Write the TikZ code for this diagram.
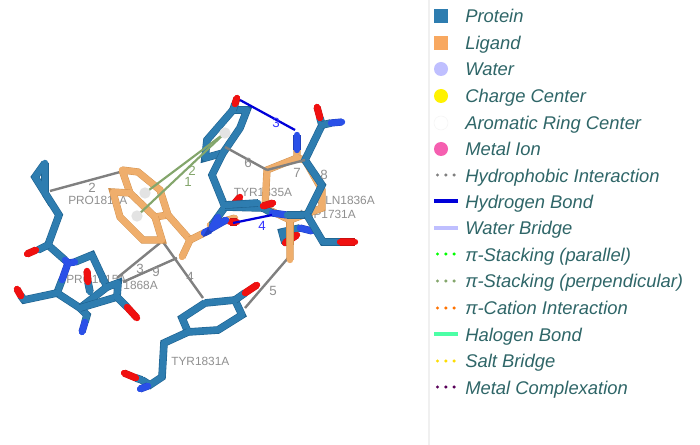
\documentclass[tikz,border=0pt]{standalone}
\usepackage{fontspec}
\setmainfont{Liberation Sans}
\definecolor{protc}{HTML}{2E7DB0}
\definecolor{protd}{HTML}{1F6391}
\definecolor{ligc}{HTML}{EFAE6C}
\definecolor{ligd}{HTML}{D2924F}
\definecolor{oxc}{HTML}{F01010}
\definecolor{oxd}{HTML}{C81010}
\definecolor{nitc}{HTML}{2A50E8}
\definecolor{nitd}{HTML}{2040C0}
\definecolor{legtext}{HTML}{2F6668}
\definecolor{labc}{HTML}{909090}
\definecolor{hydroc}{HTML}{808080}
\definecolor{perpc}{HTML}{84A66C}
\definecolor{ligsq}{HTML}{F8A860}
\definecolor{metalc}{HTML}{F55FB0}
\tikzset{
  stick/.style={line width=4.8pt,line cap=round,line join=round},
  prot/.style={stick,draw=protc,preaction={draw=protd,line width=5.7pt}},
  lig/.style={stick,draw=ligc,preaction={draw=ligd,line width=5.4pt}},
  oxy/.style={stick,draw=oxc,preaction={draw=oxd,line width=5.4pt}},
  nit/.style={stick,draw=nitc,preaction={draw=nitd,line width=5.4pt}},
  hydro/.style={draw=hydroc,line width=1.8pt},
  hbond/.style={draw=blue!85!black,line width=1.7pt},
  perp/.style={draw=perpc,line width=1.6pt},
  reslab/.style={text=labc,font=\fontsize{8.9}{10}\selectfont,inner sep=0pt},
  numlab/.style={text=labc,font=\fontsize{10}{10}\selectfont,inner sep=0pt},
  leg/.style={anchor=base west,text=legtext,font=\fontsize{13.8}{14}\selectfont\itshape,inner sep=0pt},
  legline/.style={line width=2.4pt},
  legdots/.style={line width=2.6pt,line cap=round,dash pattern=on 0pt off 6.2pt},
  sphere/.style={circle,fill=gray!22,draw=none,minimum size=8.5pt,inner sep=0pt},
  legsq/.style={minimum size=10.5pt,inner sep=0pt},
  legci/.style={circle,minimum size=10.5pt,inner sep=0pt}
}
\begin{document}
\begin{tikzpicture}[x=0.75pt,y=-0.75pt]
\useasboundingbox (0,0) rectangle (700,445);
\fill[white] (0,0) rectangle (700,445);
\draw[gray!12,line width=0.8pt] (429,0) -- (429,445);
% residue labels (behind sticks)
\node[reslab,anchor=west] (lp1) at (68,200) {PRO1811A};
\node[reslab,anchor=west] (lp2) at (66,279) {PRO1815A};
\node[reslab,anchor=east] (ll1) at (158,285) {1868A};
\node[reslab] (lt1) at (263,192) {TYR1835A};
\node[reslab,anchor=east] (lg) at (375,200) {GLN1836A};
\node[reslab,anchor=east] (la) at (356,214) {ASP1731A};
\node[reslab,anchor=west] (lt2) at (171,361) {TYR1831A};
% interaction lines
\draw[hydro] (50,191) -- (120,172);
\draw[hydro] (160,243) -- (117,278);
\draw[hydro] (177,258) -- (123,282);
\draw[hydro] (163,242) -- (203,298);
\draw[hydro] (288,258) -- (245,308);
% protein: left upper residue
\draw[prot] (45,163) -- (35,177) -- (45,193) -- (45,163);
\draw[prot] (45,193) -- (59,215) -- (48,245) -- (65,260);
\draw[prot] (48,245) -- (38,250);
\draw[oxy] (36,250) -- (27,254);
% protein: proline ring etc
\draw[prot] (75,262) -- (92,255) -- (107,287) -- (80,308) -- (57,293) -- (62,280);
\draw[nit] (62,280) -- (68,263) -- (75,262);
\draw[nit] (65,260) -- (68,263);
\draw[prot] (57,293) -- (24,300) -- (21,296);
\draw[oxy] (21,296) -- (17,289);
\draw[prot] (90,292) -- (88,282);
\draw[oxy] (88,282) -- (87,271);
\draw[prot] (80,308) -- (87,315) -- (85,322);
\draw[nit] (85,322) -- (82,332);
\draw[prot] (80,308) -- (117,297) -- (118,283) -- (107,287);
\draw[prot] (117,297) -- (127,307);
\draw[oxy] (127,307) -- (137,318);
% protein: TYR1831
\draw[prot] (205,303) -- (235,300) -- (242,315) -- (218,330) -- (188,332) -- (182,318) -- (205,303);
\draw[prot] (235,300) -- (245,293);
\draw[oxy] (245,293) -- (257,285);
\draw[prot] (188,332) -- (164,343) -- (162,377) -- (150,385) -- (142,380);
\draw[nit] (148,386) -- (140,389);
\draw[prot] (142,380) -- (136,378);
\draw[oxy] (136,378) -- (124,373);
% protein behind ligand: lower right
\draw[oxy] (240,197) -- (234,204);
\draw[prot] (285,243) -- (282,232) -- (300,228);
\draw[nit] (300,228) -- (312,231);
\draw[oxy] (285,243) -- (297,235);
% ligand
\draw[lig] (122,170) -- (138,172) -- (160,190) -- (168,215) -- (155,217) -- (130,193) -- (122,170);
\draw[lig] (130,193) -- (113,192) -- (120,217) -- (143,240) -- (162,240) -- (155,217);
\draw[lig] (168,215) -- (190,240) -- (182,257);
\draw[lig] (190,240) -- (204,233);
\draw[nit] (204,233) -- (210,230);
\draw[lig] (210,225) -- (235,218);
\draw[lig] (265,208) -- (267,170) -- (297,158) -- (297,150);
\draw[nit] (297,150) -- (297,135);
\draw[lig] (297,158) -- (305,160) -- (322,190) -- (322,208) -- (290,220) -- (290,260);
\draw[lig] (265,208) -- (290,220);
\draw[oxy] (230,222) -- (237,222);
% protein front: upper ring + backbone
\draw[prot] (233,110) -- (247,110) -- (240,128) -- (223,153) -- (205,158) -- (207,140) -- (233,110);
\draw[prot] (233,110) -- (235,104);
\draw[oxy] (235,104) -- (237,98);
\draw[prot] (223,153) -- (212,175) -- (225,207) -- (212,225);
\draw[nit] (218,217) -- (212,228) -- (226,220);
\draw[prot] (225,207) -- (263,208) -- (272,213);
\draw[prot] (225,205) -- (258,203);
\draw[oxy] (263,206) -- (273,203);
\draw[nit] (272,213) -- (287,215);
\draw[prot] (287,215) -- (307,215) -- (322,185) -- (305,160) -- (322,125);
\draw[prot] (322,125) -- (320,118);
\draw[oxy] (320,118) -- (317,107);
\draw[prot] (322,125) -- (331,123);
\draw[nit] (331,123) -- (342,122);
\draw[prot] (307,215) -- (323,242) -- (340,242);
\draw[oxy] (340,242) -- (355,242);
\draw[lig] (290,222) -- (290,245);
% hydrogen bonds
\draw[hbond] (240,100) -- (295,130);
\draw[hbond] (233,223) -- (272,215);
% hydrophobic across
\draw[hydro] (225,147) -- (267,170);
\draw[hydro] (267,170) -- (305,160);
% pi stacking
\draw[perp] (145,193) -- (225,133);
\draw[perp] (137,216) -- (225,133);
\node[sphere] (c1) at (145,193) {};
\node[sphere] (c2) at (137,216) {};
\node[sphere] (c3) at (225,133) {};
% numeric labels
\node[numlab] (n1) at (92,188) {2};
\node[numlab] (n2) at (140,269) {3};
\node[numlab] (n3) at (156,272) {9};
\node[numlab] (n4) at (190,277) {4};
\node[numlab] (n5) at (273,291) {5};
\node[numlab] (n6) at (248,163) {6};
\node[numlab] (n7) at (297,173) {7};
\node[numlab] (n8) at (324,175) {8};
\node[numlab,text=blue!80!white] (n9) at (276,123) {3};
\node[numlab,text=blue!80!white] (n10) at (262,226) {4};
\node[numlab,text=perpc] (n11) at (192,171) {2};
\node[numlab,text=perpc] (n12) at (188,182) {1};
% legend
\node[legsq,fill=protc] (s1) at (441,16) {};
\node[legsq,fill=ligsq] (s2) at (441,43) {};
\node[legci,fill=blue!25!white] (s3) at (441,69) {};
\node[legci,fill=yellow] (s4) at (441,96) {};
\node[legci,fill=white,draw=gray!8] (s5) at (441,123) {};
\node[legci,fill=metalc] (s6) at (441,149) {};
\draw[legdots,draw=gray] (437.5,175) -- (456,175);
\draw[legline,draw=blue!85!black] (434,201) -- (458,201);
\draw[legline,draw=blue!25!white] (434,228) -- (458,228);
\draw[legdots,draw=green] (437.5,254) -- (456,254);
\draw[legdots,draw=perpc] (437.5,281) -- (456,281);
\draw[legdots,draw=orange!90!red] (437.5,308) -- (456,308);
\draw[legline,draw=green!50!cyan!70!white] (434,334) -- (458,334);
\draw[legdots,draw=yellow!80!orange] (437.5,361) -- (456,361);
\draw[legdots,draw=violet!70!black] (437.5,387) -- (456,387);
\node[leg] (t1) at (465,22.5) {Protein};
\node[leg] (t2) at (465,49.5) {Ligand};
\node[leg] (t3) at (465,75.5) {Water};
\node[leg] (t4) at (465,102.5) {Charge Center};
\node[leg] (t5) at (465,129.5) {Aromatic Ring Center};
\node[leg] (t6) at (465,155.5) {Metal Ion};
\node[leg] (t7) at (465,182.5) {Hydrophobic Interaction};
\node[leg] (t8) at (465,208.5) {Hydrogen Bond};
\node[leg] (t9) at (465,234.5) {Water Bridge};
\node[leg] (t10) at (465,261.5) {π-Stacking (parallel)};
\node[leg] (t11) at (465,287.5) {π-Stacking (perpendicular)};
\node[leg] (t12) at (465,314.5) {π-Cation Interaction};
\node[leg] (t13) at (465,341.5) {Halogen Bond};
\node[leg] (t14) at (465,367.5) {Salt Bridge};
\node[leg] (t15) at (465,394.5) {Metal Complexation};
\end{tikzpicture}
\end{document}
